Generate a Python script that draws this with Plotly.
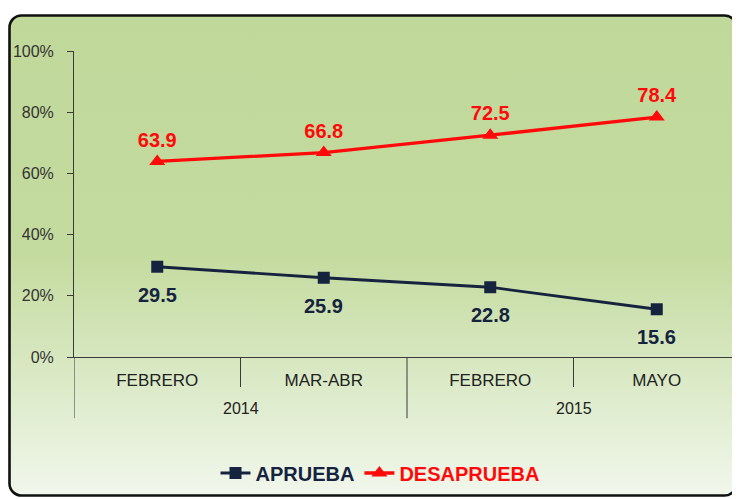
import base64
import plotly.graph_objects as go

years = ["2014", "2015"]
year_span = [[0, 1], [2, 3]]
months = ["FEBRERO", "MAR-ABR", "FEBRERO", "MAYO"]
aprueba = [29.5, 25.9, 22.8, 15.6]
desaprueba = [63.9, 66.8, 72.5, 78.4]
y_ticks = [0, 20, 40, 60, 80, 100]
y_ticktext = ["0%", "20%", "40%", "60%", "80%", "100%"]

NAVY = "#16233f"
RED = "#ff0a0a"
AXIS = "#3a3a3a"
FONT = "Liberation Sans, Arial, sans-serif"

xpos = list(range(len(months)))

# page body has an 8px margin: figure is drawn 8px right/down
W, H = 732, 491
L, T = 66, 43
PW, PH = 666, 306

svg = """<svg xmlns='http://www.w3.org/2000/svg' width='730' height='483' viewBox='0 0 730 483' preserveAspectRatio='none'>
<defs><linearGradient id='g' x1='0' y1='0' x2='0' y2='1'>
<stop offset='0' stop-color='#c0d89a'/>
<stop offset='0.5' stop-color='#c4db9f'/>
<stop offset='0.75' stop-color='#dae9c5'/>
<stop offset='1' stop-color='#f1f7ec'/>
</linearGradient></defs>
<rect x='1.5' y='1.5' width='727' height='480' rx='12' ry='12' fill='url(#g)' stroke='#111' stroke-width='2.6'/>
</svg>"""
src = "data:image/svg+xml;base64," + base64.b64encode(svg.encode()).decode()

fig = go.Figure()
fig.add_trace(go.Scatter(
    x=xpos, y=aprueba, mode="lines+markers",
    name=f"<span style='color:{NAVY}'>APRUEBA</span>",
    line=dict(color=NAVY, width=2.8),
    marker=dict(symbol="square", size=12, color=NAVY),
))
fig.add_trace(go.Scatter(
    x=xpos, y=desaprueba, mode="lines+markers+text",
    name=f"<span style='color:{RED}'>DESAPRUEBA</span>",
    line=dict(color=RED, width=3.3),
    marker=dict(symbol="triangle-up", size=14, color=RED),
    text=[f"{v:.1f}" for v in desaprueba], textposition="top center",
    textfont=dict(family=FONT, size=20, color=RED, weight="bold"),
))

shapes = []
for i in range(len(months) - 1):
    boundary = i + 0.5
    is_year_break = any(boundary == s[1] + 0.5 for s in year_span[:-1])
    shapes.append(dict(type="line", xref="x", yref="paper", x0=boundary, x1=boundary,
                       y0=0, y1=-0.2 if is_year_break else -0.098,
                       line=dict(color=AXIS, width=1)))
shapes.append(dict(type="line", xref="x", yref="paper", x0=-0.5, x1=-0.5, y0=0, y1=-0.2,
                   line=dict(color=AXIS, width=1)))

annotations = []
for yr, span in zip(years, year_span):
    annotations.append(dict(x=sum(span) / 2, y=-0.167, xref="x", yref="paper",
                            text=yr, showarrow=False, yanchor="middle",
                            font=dict(family=FONT, size=16, color="#222")))
for xi, v in zip(xpos, aprueba):
    annotations.append(dict(x=xi, y=v, xref="x", yref="y", text=f"{v:.1f}",
                            showarrow=False, yanchor="middle", yshift=-28,
                            font=dict(family=FONT, size=20, color=NAVY, weight="bold")))

fig.update_layout(
    width=W, height=H,
    margin=dict(l=L, r=W - L - PW, t=T, b=H - T - PH),
    paper_bgcolor="white", plot_bgcolor="rgba(0,0,0,0)",
    font=dict(family=FONT, size=16, color="#222"),
    showlegend=True,
    legend=dict(orientation="h", x=372 / W, xref="container", xanchor="center",
                y=1 - 465 / H, yref="container", yanchor="middle",
                bgcolor="rgba(0,0,0,0)", font=dict(size=20, weight="bold"),
                itemwidth=30, tracegroupgap=0),
    shapes=shapes,
    annotations=annotations,
    images=[dict(source=src, xref="paper", yref="paper",
                 x=(0 - L) / PW, y=1 + (T - 6) / PH,
                 sizex=730 / PW, sizey=483 / PH,
                 sizing="stretch", layer="below", xanchor="left", yanchor="top")],
)
fig.update_xaxes(range=[-0.5, len(months) - 0.5], tickvals=xpos, ticktext=months,
                 showline=True, linecolor=AXIS, linewidth=1, automargin=False,
                 ticks="outside", ticklen=8, tickcolor="rgba(0,0,0,0)",
                 showgrid=False, zeroline=False, tickfont=dict(size=17, color="#222"))
fig.update_yaxes(range=[0, 100], tickvals=y_ticks, ticktext=y_ticktext,
                 showline=True, linecolor=AXIS, linewidth=1, automargin=False,
                 ticks="outside", ticklen=6, tickcolor=AXIS, ticklabelstandoff=10,
                 showgrid=False, zeroline=False, tickfont=dict(size=16, color="#333"))

fig.write_html("out.html")
